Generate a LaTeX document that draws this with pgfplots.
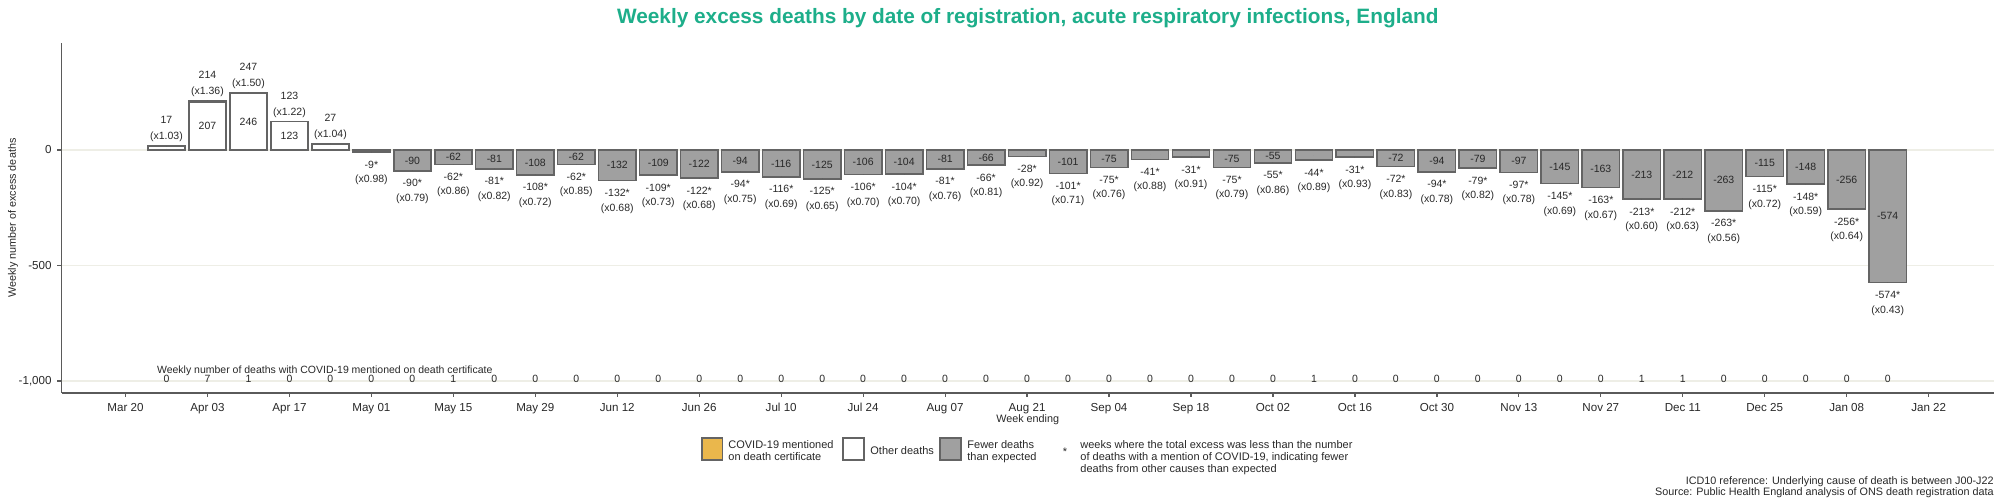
\documentclass[border=0pt]{standalone}
\usepackage{fontspec}
\setmainfont{Liberation Sans}
\usepackage{pgfplots}
\pgfplotsset{compat=1.18}
\usepackage{pgfplotstable}

\definecolor{titlec}{RGB}{29,174,138}
\definecolor{goldc}{RGB}{234,183,76}
\definecolor{grayfill}{RGB}{160,160,160}
\definecolor{outl}{RGB}{100,100,100}
\definecolor{axc}{RGB}{90,90,90}
\definecolor{gridc}{RGB}{238,238,230}
\definecolor{txt}{RGB}{40,40,40}

\tikzset{
  lab/.style={font=\fontsize{5.25pt}{6.3pt}\selectfont, text=txt, inner sep=0pt},
  leg/.style={font=\fontsize{5.5pt}{6.6pt}\selectfont, text=txt, inner sep=0pt},
}

% positive weeks: total excess, other deaths, COVID-19 mentioned
\pgfplotstableread{
i total other covid lab1 lab2 inlab
0 17 17 0 17 (x1.03) {}
1 214 207 7 214 (x1.36) 207
2 247 246 1 247 (x1.50) 246
3 123 123 0 123 (x1.22) 123
4 27 27 0 27 (x1.04) {}
}\pos

% negative weeks: fewer deaths than expected
\pgfplotstableread{
i total covid lab1 lab2 inlab
5 -9 0 -9* (x0.98) {}
6 -90 0 -90* (x0.79) -90
7 -62 1 -62* (x0.86) -62
8 -81 0 -81* (x0.82) -81
9 -108 0 -108* (x0.72) -108
10 -62 0 -62* (x0.85) -62
11 -132 0 -132* (x0.68) -132
12 -109 0 -109* (x0.73) -109
13 -122 0 -122* (x0.68) -122
14 -94 0 -94* (x0.75) -94
15 -116 0 -116* (x0.69) -116
16 -125 0 -125* (x0.65) -125
17 -106 0 -106* (x0.70) -106
18 -104 0 -104* (x0.70) -104
19 -81 0 -81* (x0.76) -81
20 -66 0 -66* (x0.81) -66
21 -28 0 -28* (x0.92) {}
22 -101 0 -101* (x0.71) -101
23 -75 0 -75* (x0.76) -75
24 -41 0 -41* (x0.88) {}
25 -31 0 -31* (x0.91) {}
26 -75 0 -75* (x0.79) -75
27 -55 0 -55* (x0.86) -55
28 -44 1 -44* (x0.89) {}
29 -31 0 -31* (x0.93) {}
30 -72 0 -72* (x0.83) -72
31 -94 0 -94* (x0.78) -94
32 -79 0 -79* (x0.82) -79
33 -97 0 -97* (x0.78) -97
34 -145 0 -145* (x0.69) -145
35 -163 0 -163* (x0.67) -163
36 -213 1 -213* (x0.60) -213
37 -212 1 -212* (x0.63) -212
38 -263 0 -263* (x0.56) -263
39 -115 0 -115* (x0.72) -115
40 -148 0 -148* (x0.59) -148
41 -256 0 -256* (x0.64) -256
42 -574 0 -574* (x0.43) -574
}\neg

\begin{document}
\begin{tikzpicture}
\useasboundingbox (0,0) rectangle (1000pt,249.5pt);
\begin{axis}[
  at={(30.75pt,53.15pt)}, anchor=south west,
  scale only axis, width=966.25pt, height=174.85pt,
  xmin=-2.562, xmax=44.595, ymin=-1050.6, ymax=463.2,
  axis x line*=bottom, axis y line*=left,
  axis line style={draw=axc, line width=0.8pt, -},
  xtick={-1,1,...,43},
  xticklabels={Mar 20,Apr 03,Apr 17,May 01,May 15,May 29,Jun 12,Jun 26,Jul 10,Jul 24,Aug 07,Aug 21,Sep 04,Sep 18,Oct 02,Oct 16,Oct 30,Nov 13,Nov 27,Dec 11,Dec 25,Jan 08,Jan 22},
  ytick={-1000,-500,0}, yticklabels={{-1,000},{-500},{0}},
  /pgf/number format/assume math mode=true,
  tick align=outside, major tick length=2pt,
  tick style={draw=axc, line width=0.6pt},
  xticklabel style={font=\fontsize{5.8pt}{7pt}\selectfont, text=txt, anchor=base, inner sep=0pt, yshift=-7.15pt},
  yticklabel style={font=\fontsize{5.8pt}{7pt}\selectfont, text=txt, anchor=east, inner sep=0pt, xshift=-2.75pt},
  ymajorgrids, grid style={draw=gridc, line width=0.6pt},
  clip=false,
]
% bars
\addplot[ybar, bar width=0.91, bar shift=0pt, fill=goldc, draw=outl, line width=0.8pt]
  table[x=i, y=total] {\pos};
\addplot[ybar, bar width=0.91, bar shift=0pt, fill=white, draw=outl, line width=0.8pt]
  table[x=i, y=other] {\pos};
\addplot[ybar, bar width=0.91, bar shift=0pt, fill=grayfill, draw=outl, line width=0.8pt]
  table[x=i, y=total] {\neg};

% labels above positive bars
\addplot[only marks, mark=*, mark size=0pt, mark options={draw=none, fill=none},
  nodes near coords, point meta=explicit symbolic,
  nodes near coords style={lab, anchor=center, yshift=4.6pt}]
  table[x=i, y=total, meta=lab2] {\pos};
\addplot[only marks, mark=*, mark size=0pt, mark options={draw=none, fill=none},
  nodes near coords, point meta=explicit symbolic,
  nodes near coords style={lab, anchor=center, yshift=12.9pt}]
  table[x=i, y=total, meta=lab1] {\pos};
\addplot[only marks, mark=*, mark size=0pt, mark options={draw=none, fill=none},
  nodes near coords, point meta=explicit symbolic,
  nodes near coords style={lab, anchor=center}]
  table[x=i, y expr=\thisrow{other}/2, meta=inlab] {\pos};
% labels below negative bars
\addplot[only marks, mark=*, mark size=0pt, mark options={draw=none, fill=none},
  nodes near coords, point meta=explicit symbolic,
  nodes near coords style={lab, anchor=center, yshift=-6.2pt}]
  table[x=i, y=total, meta=lab1] {\neg};
\addplot[only marks, mark=*, mark size=0pt, mark options={draw=none, fill=none},
  nodes near coords, point meta=explicit symbolic,
  nodes near coords style={lab, anchor=center, yshift=-13.9pt}]
  table[x=i, y=total, meta=lab2] {\neg};
\addplot[only marks, mark=*, mark size=0pt, mark options={draw=none, fill=none},
  nodes near coords, point meta=explicit symbolic,
  nodes near coords style={lab, anchor=center}]
  table[x=i, y expr=\thisrow{total}/2, meta=inlab] {\neg};
% COVID-19 counts row
\addplot[only marks, mark=*, mark size=0pt, mark options={draw=none, fill=none},
  nodes near coords, point meta=explicit symbolic,
  nodes near coords style={lab, anchor=center}]
  table[x=i, y expr=-991, meta=covid] {\pos};
\addplot[only marks, mark=*, mark size=0pt, mark options={draw=none, fill=none},
  nodes near coords, point meta=explicit symbolic,
  nodes near coords style={lab, anchor=center}]
  table[x=i, y expr=-991, meta=covid] {\neg};
\node[lab, anchor=west] at (axis cs:-0.24,-954) {Weekly number of deaths with COVID-19 mentioned on death certificate};
\end{axis}

% title and axis titles
\node[font=\bfseries\fontsize{10.4pt}{12pt}\selectfont, text=titlec, anchor=base, inner sep=0pt] at (513.9pt,237.85pt) {Weekly excess deaths by date of registration, acute respiratory infections, England};
\node[leg, rotate=90, font=\fontsize{5.4pt}{6.5pt}\selectfont] at (6.5pt,140.5pt) {Weekly number of excess deaths};
\node[leg, font=\fontsize{5.4pt}{6.5pt}\selectfont] at (513.85pt,39.5pt) {Week ending};

% legend
\draw[fill=goldc, draw=outl, line width=0.8pt] (350.85pt,19.5pt) rectangle (361.15pt,30.65pt);
\node[leg, anchor=mid west] at (364pt,27.85pt) {COVID-19 mentioned};
\node[leg, anchor=mid west] at (364pt,22pt) {on death certificate};
\draw[fill=white, draw=outl, line width=0.8pt] (421.5pt,19.5pt) rectangle (432pt,30.65pt);
\node[leg, anchor=mid west] at (435pt,25pt) {Other deaths};
\draw[fill=grayfill, draw=outl, line width=0.8pt] (470pt,19.5pt) rectangle (480.5pt,30.65pt);
\node[leg, anchor=mid west] at (483.5pt,27.85pt) {Fewer deaths};
\node[leg, anchor=mid west] at (483.5pt,22pt) {than expected};
\node[leg] at (532.5pt,23.5pt) {*};
\node[leg, anchor=mid west] at (540pt,27.85pt) {weeks where the total excess was less than the number};
\node[leg, anchor=mid west] at (540pt,22pt) {of deaths with a mention of COVID-19, indicating fewer};
\node[leg, anchor=mid west] at (540pt,15.85pt) {deaths from other causes than expected};

% caption
\node[leg, anchor=mid east, font=\fontsize{5.4pt}{6.5pt}\selectfont] at (997pt,10pt) {ICD10 reference: Underlying cause of death is between J00-J22};
\node[leg, anchor=mid east, font=\fontsize{5.4pt}{6.5pt}\selectfont] at (997pt,4.5pt) {Source: Public Health England analysis of ONS death registration data};
\end{tikzpicture}
\end{document}
